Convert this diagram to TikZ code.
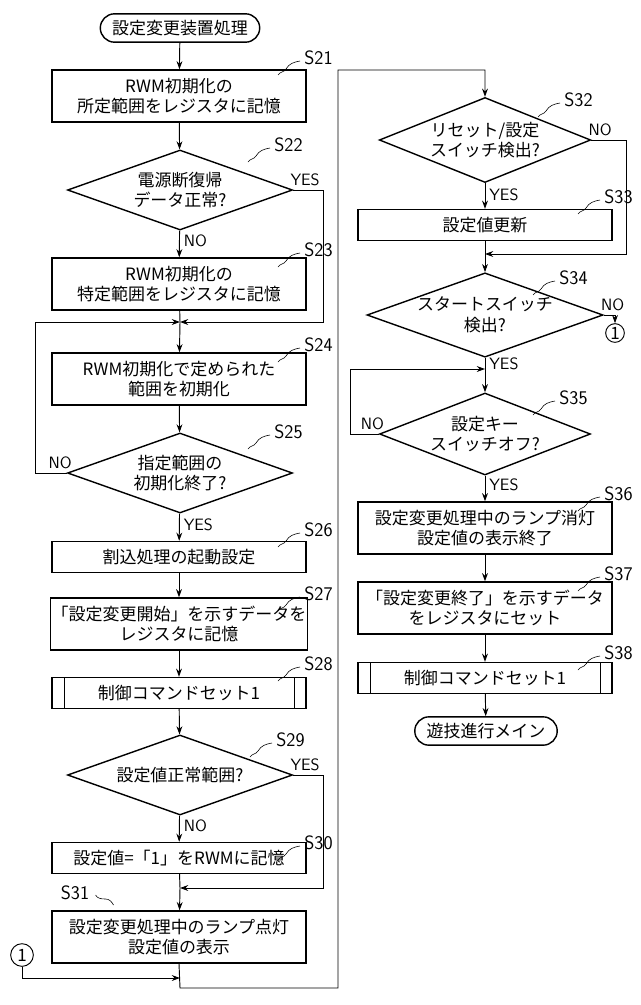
\documentclass[tikz,border=0pt]{standalone}
\usepackage{fontspec}
\setmainfont{Noto Sans CJK JP}
\usetikzlibrary{shapes.geometric,shapes.misc,arrows.meta}
\begin{document}
\begin{tikzpicture}[x=0.03cm,y=-0.03cm,font=\fontsize{14.5}{17.5}\selectfont,
    line width=0.8pt,>={Stealth[length=7pt,width=5pt]},
    proc/.style={draw, rectangle, line width=1.2pt, minimum width=7.62cm, minimum height=1.56cm, align=center, inner sep=1pt},
    procone/.style={proc, minimum height=0.93cm},
    sub/.style={procone, path picture={\draw[line width=0.5pt] ([xshift=0.36cm]path picture bounding box.north west) -- ([xshift=0.36cm]path picture bounding box.south west) ([xshift=-0.36cm]path picture bounding box.north east) -- ([xshift=-0.36cm]path picture bounding box.south east);}},
    dec/.style={draw, diamond, aspect=2.8, line width=1.2pt, minimum width=6.75cm, minimum height=2.4cm, inner sep=0pt, align=center},
    term/.style={draw, rounded rectangle, line width=1.2pt, minimum height=0.85cm, inner xsep=8pt},
    conn/.style={draw, circle, line width=0.8pt, inner sep=0pt, minimum size=0.68cm},
    slabel/.style={font=\fontsize{16.5}{18}\selectfont\sffamily},
    yn/.style={font=\fontsize{14}{16}\selectfont\sffamily}]
\useasboundingbox (0,0) rectangle (640,1005);
% left column
\node[term] (start) at (180,28) {設定変更装置処理};
\node[proc] (s21) at (179,96) {RWM初期化の\\所定範囲をレジスタに記憶};
\node[dec] (s22) at (180,190) {電源断復帰\\データ正常?};
\node[proc] (s23) at (179,284) {RWM初期化の\\特定範囲をレジスタに記憶};
\coordinate (m1) at (180,322);
\node[proc] (s24) at (179,379) {RWM初期化で定められた\\範囲を初期化};
\node[dec] (s25) at (180,473) {指定範囲の\\初期化終了?};
\node[procone] (s26) at (179,557) {割込処理の起動設定};
\node[proc] (s27) at (179,624) {「設定変更開始」を示すデータを\\レジスタに記憶};
\node[sub] (s28) at (179,693) {制御コマンドセット1};
\node[dec] (s29) at (180,775) {設定値正常範囲?};
\node[procone] (s30) at (179,858) {設定値=「1」をRWMに記憶};
\coordinate (m2) at (180,888);
\node[proc] (s31) at (179,937) {設定変更処理中のランプ点灯\\設定値の表示};
\node[conn] (c1) at (22,955) {1};
% right column
\node[dec, minimum width=6.3cm, minimum height=2.55cm] (s32) at (485,140) {リセット/設定\\スイッチ検出?};
\node[procone] (s33) at (485,225) {設定値更新};
\coordinate (m3) at (485,254);
\node[dec, minimum width=5.58cm, minimum height=2.28cm] (s34) at (485,315) {スタートスイッチ\\検出?};
\node[conn, minimum size=0.56cm] (c2) at (615,333) {1};
\coordinate (m4) at (485,369);
\node[dec, minimum width=5.7cm, minimum height=2.46cm] (s35) at (485,434) {設定キー\\スイッチオフ?};
\node[proc] (s36) at (485,528) {設定変更処理中のランプ消灯\\設定値の表示終了};
\node[proc] (s37) at (485,608) {「設定変更終了」を示すデータ\\をレジスタにセット};
\node[sub] (s38) at (485,678) {制御コマンドセット1};
\node[term] (end) at (486,731) {遊技進行メイン};

% step labels
\foreach \n/\lx/\ly in {s21/300/58, s22/270/145, s23/300/250, s24/300/345, s25/270/432,
    s26/300/530, s27/300/594, s28/300/664, s29/272/740, s30/300/843,
    s32/560/100, s33/600/197, s34/555/278, s35/555/398, s36/600/494,
    s37/600/574, s38/600/653}{
  \node[slabel, anchor=west] (l\n) at (\lx,\ly) {\MakeUppercase{\n}};
  \draw[line width=0.5pt] (l\n.west) ++(0,3) to[out=190,in=60] ++(-14,8) to[out=240,in=60] ++(-8,6);
}
\node[slabel] (ls31) at (75,893) {S31};
\draw[line width=0.5pt] (ls31.east) ++(2,2) to[out=-60,in=180] ++(10,4) to[out=0,in=120] ++(8,6);

% flow left
\draw[->] (start) -- (s21);
\draw[->] (s21) -- (s22);
\draw[->] (s22) -- node[yn, right, pos=0.4] {NO} (s23);
\draw (s23) -- (m1);
\draw[->] (s22.east) node[yn, above right, xshift=-6pt] {YES} -| (323,322) -- (m1);
\draw[->] (m1) -- (s24);
\draw[->] (s24) -- (s25);
\draw[->] (s25.west) node[yn, above left, xshift=8pt] {NO} -| (35,322) -- (m1);
\draw[->] (s25) -- node[yn, right, pos=0.4] {YES} (s26);
\draw[->] (s26) -- (s27);
\draw[->] (s27) -- (s28);
\draw[->] (s28) -- (s29);
\draw[->] (s29) -- node[yn, right, pos=0.4] {NO} (s30);
\draw (s30) -- (m2);
\draw[->] (s29.east) node[yn, above right, xshift=-6pt] {YES} -| (323,888) -- (m2);
\draw[->] (m2) -- (s31);
\draw[->] (c1) |- (180,978);
\draw[->] (s31.south) -- (180,988) -| (338,70) -| (s32.north);
% flow right
\draw[->] (s32) -- node[yn, right, pos=0.45] {YES} (s33);
\draw (s33) -- (m3);
\draw[->] (s32.east) node[yn, above right, xshift=-6pt] {NO} -| (626,254) -- (m3);
\draw[->] (m3) -- (s34);
\draw[->] (s34.east) node[yn, above right, xshift=-6pt] {NO} -| (c2);
\draw (s34) -- node[yn, right, pos=0.5] {YES} (m4);
\draw[->] (m4) -- (s35);
\draw[->] (s35.west) node[yn, above left, xshift=8pt] {NO} -| (350,369) -- (m4);
\draw[->] (s35) -- node[yn, right, pos=0.35] {YES} (s36);
\draw[->] (s36) -- (s37);
\draw[->] (s37) -- (s38);
\draw[->] (s38) -- (end);
\end{tikzpicture}
\end{document}
